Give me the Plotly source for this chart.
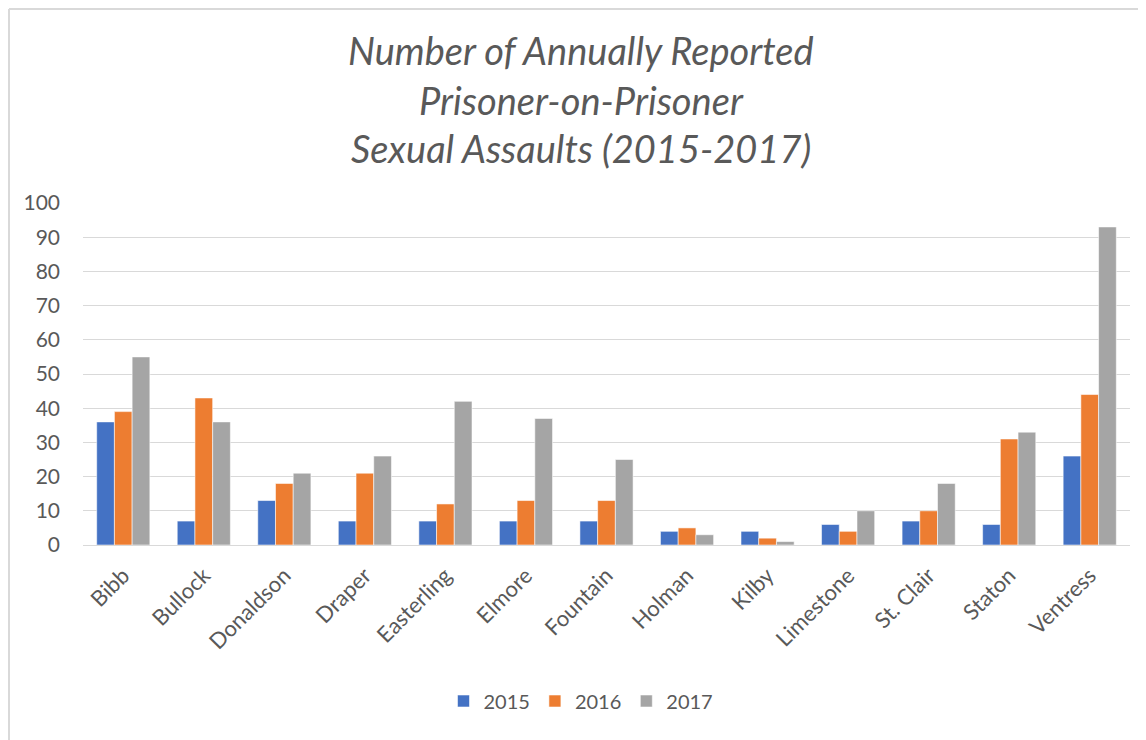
import plotly.graph_objects as go

categories = ["Bibb", "Bullock", "Donaldson", "Draper", "Easterling", "Elmore",
              "Fountain", "Holman", "Kilby", "Limestone", "St. Clair", "Staton", "Ventress"]
y2015 = [36, 7, 13, 7, 7, 7, 7, 4, 4, 6, 7, 6, 26]
y2016 = [39, 43, 18, 21, 12, 13, 13, 5, 2, 4, 10, 31, 44]
y2017 = [55, 36, 21, 26, 42, 37, 25, 3, 1, 10, 18, 33, 93]
series_names = ["2015", "2016", "2017"]
colors = ["#4472C4", "#ED7D31", "#A5A5A5"]
title_lines = ["Number of Annually Reported", "Prisoner-on-Prisoner", "Sexual Assaults (2015-2017)"]

OFF = 8  # page body margin in the browser
W, H = 1146 - OFF, 740 - OFF
L, T = 83 - OFF, 203 - OFF
PR, PB = 1130 - OFF, 545 - OFF  # plot right / bottom in figure px
R, B = W - PR, H - PB
pw, ph = PR - L, PB - T

def px(x):
    return (x - OFF - L) / pw

def py(y):
    return (PB - (y - OFF)) / ph

font = "Lato, 'Open Sans', sans-serif"
grey = "#595959"

fig = go.Figure()
for name, vals, c in zip(series_names, [y2015, y2016, y2017], colors):
    fig.add_trace(go.Bar(x=categories, y=vals, name=name, marker_color=c,
                         marker_line=dict(width=1, color="rgba(255,255,255,0.55)")))

annotations = []
for t, yc in zip(title_lines, [50, 100, 148]):
    annotations.append(dict(text="<i>" + t + "</i>", x=px(581), y=py(yc), xref="paper", yref="paper",
                            showarrow=False, xanchor="center", yanchor="middle",
                            font=dict(family=font, size=38, color=grey)))

shapes = [
    dict(type="line", xref="paper", yref="paper", x0=px(OFF + 1), x1=px(1146), y0=py(OFF + 1), y1=py(OFF + 1),
         line=dict(color="#D9D9D9", width=2)),
    dict(type="line", xref="paper", yref="paper", x0=px(OFF + 1), x1=px(OFF + 1), y0=py(OFF + 1), y1=py(740),
         line=dict(color="#D9D9D9", width=2)),
]

fig.update_layout(
    width=W, height=H,
    margin=dict(l=L, r=R, t=T, b=B, autoexpand=False),
    paper_bgcolor="white", plot_bgcolor="white",
    barmode="group", bargap=0.34, bargroupgap=0,
    font=dict(family=font, size=19, color=grey),
    annotations=annotations, shapes=shapes,
    legend=dict(orientation="h", x=px(581), xanchor="center", y=py(701), yanchor="middle",
                font=dict(family=font, size=20, color=grey), itemwidth=30),
    xaxis=dict(tickangle=-45, showline=True, linecolor="#D9D9D9", linewidth=1,
               tickfont=dict(family=font, size=22, color=grey), ticks="", ticklabelstandoff=8),
    yaxis=dict(range=[0, 100], dtick=10, showgrid=True, gridcolor="#D9D9D9", gridwidth=1,
               zeroline=False, showline=False, ticklabelstandoff=22,
               tickfont=dict(family=font, size=21, color=grey)),
)

fig.write_html("out.html")
